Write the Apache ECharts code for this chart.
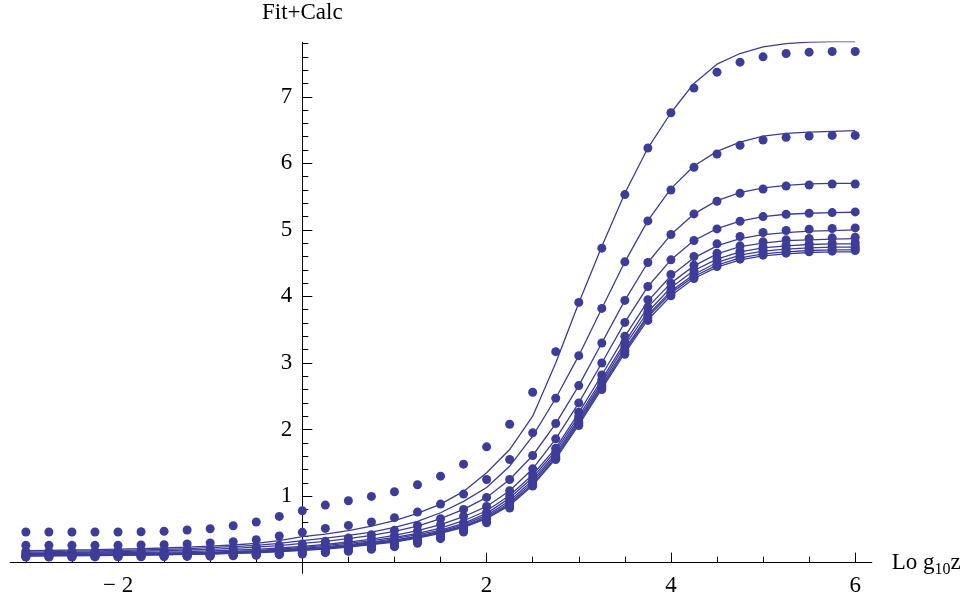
<!DOCTYPE html>
<html>
<head>
<meta charset="utf-8">
<script src="https://cdn.jsdelivr.net/npm/echarts@6/dist/echarts.min.js"></script>
<style>html,body{margin:0;padding:0;background:#fff;}#c{width:969px;height:599px;}</style>
</head>
<body>
<div id="c"></div>
<script>
// x positions (Log10 z)
const xs = [-3,-2.75,-2.5,-2.25,-2,-1.75,-1.5,-1.25,-1,-0.75,-0.5,-0.25,0,0.25,0.5,0.75,1,1.25,1.5,1.75,2,2.25,2.5,2.75,3,3.25,3.5,3.75,4,4.25,4.5,4.75,5,5.25,5.5,5.75,6];

// calculated points
const calcA = [0.46,0.46,0.46,0.46,0.46,0.465,0.47,0.49,0.51,0.555,0.61,0.695,0.78,0.865,0.93,0.995,1.065,1.17,1.30,1.48,1.74,2.08,2.56,3.17,3.91,4.725,5.53,6.23,6.76,7.13,7.37,7.52,7.60,7.65,7.67,7.68,7.68];
const calcB = [0.26,0.26,0.26,0.26,0.26,0.265,0.27,0.28,0.295,0.315,0.345,0.40,0.455,0.515,0.56,0.61,0.676,0.76,0.88,1.03,1.25,1.55,1.95,2.47,3.11,3.82,4.52,5.135,5.60,5.94,6.14,6.27,6.35,6.39,6.41,6.42,6.42];
const calcC = [0.17,0.17,0.17,0.17,0.175,0.18,0.185,0.19,0.20,0.215,0.235,0.26,0.28,0.32,0.37,0.42,0.485,0.56,0.66,0.80,0.98,1.25,1.61,2.09,2.66,3.30,3.94,4.51,4.93,5.24,5.43,5.55,5.615,5.66,5.675,5.69,5.69];
const calcD = [0.145,0.145,0.145,0.148,0.15,0.155,0.16,0.165,0.175,0.185,0.20,0.22,0.25,0.28,0.32,0.36,0.41,0.48,0.57,0.70,0.845,1.08,1.41,1.86,2.40,3.0,3.61,4.15,4.55,4.84,5.015,5.13,5.20,5.235,5.25,5.26,5.27];
const calcE = [0.12,0.12,0.12,0.123,0.125,0.128,0.132,0.137,0.143,0.152,0.165,0.19,0.22,0.24,0.27,0.30,0.35,0.41,0.49,0.60,0.76,1.00,1.32,1.72,2.26,2.82,3.40,3.95,4.33,4.60,4.79,4.90,4.96,4.99,5.01,5.02,5.03];
const calcF = [0.11,0.11,0.11,0.112,0.114,0.117,0.12,0.125,0.13,0.138,0.15,0.17,0.19,0.21,0.24,0.27,0.32,0.38,0.45,0.56,0.72,0.95,1.27,1.67,2.20,2.75,3.31,3.84,4.20,4.47,4.65,4.76,4.82,4.85,4.87,4.88,4.89];
const calcG = [0.10,0.10,0.10,0.102,0.104,0.106,0.109,0.113,0.118,0.125,0.135,0.15,0.17,0.19,0.22,0.25,0.29,0.35,0.42,0.53,0.68,0.91,1.23,1.63,2.16,2.70,3.25,3.77,4.13,4.39,4.57,4.68,4.74,4.77,4.79,4.80,4.81];
const calcH = [0.095,0.095,0.095,0.097,0.098,0.10,0.103,0.106,0.11,0.116,0.125,0.137,0.15,0.17,0.20,0.23,0.27,0.33,0.40,0.50,0.65,0.88,1.20,1.60,2.12,2.66,3.20,3.72,4.08,4.34,4.52,4.63,4.69,4.72,4.74,4.75,4.76];
const calcI = [0.09,0.09,0.09,0.091,0.092,0.094,0.097,0.10,0.104,0.11,0.118,0.128,0.14,0.16,0.18,0.21,0.25,0.31,0.38,0.48,0.62,0.85,1.17,1.57,2.09,2.63,3.17,3.68,4.04,4.30,4.48,4.59,4.65,4.68,4.70,4.71,4.72];
const calcJ = [0.085,0.085,0.085,0.086,0.087,0.089,0.091,0.094,0.098,0.104,0.111,0.12,0.13,0.15,0.17,0.20,0.24,0.29,0.36,0.46,0.60,0.82,1.15,1.55,2.06,2.60,3.13,3.64,4.01,4.27,4.45,4.56,4.62,4.65,4.67,4.68,4.69];

// fitted curves
const fitA = [0.18,0.185,0.19,0.196,0.203,0.211,0.22,0.232,0.247,0.265,0.29,0.33,0.39,0.43,0.48,0.55,0.63,0.74,0.88,1.07,1.35,1.70,2.2,3.0,3.9,4.75,5.55,6.23,6.76,7.2,7.49,7.65,7.75,7.80,7.82,7.83,7.83];
const fitB = [0.163,0.167,0.172,0.177,0.183,0.19,0.20,0.21,0.225,0.24,0.26,0.29,0.33,0.37,0.41,0.46,0.53,0.62,0.75,0.92,1.13,1.45,1.90,2.47,3.11,3.82,4.52,5.14,5.62,5.96,6.18,6.32,6.41,6.45,6.47,6.48,6.49];
const fitC = [0.146,0.15,0.155,0.16,0.166,0.172,0.18,0.19,0.20,0.215,0.232,0.255,0.29,0.32,0.36,0.41,0.47,0.55,0.66,0.80,0.98,1.25,1.61,2.09,2.66,3.30,3.94,4.51,4.93,5.24,5.44,5.56,5.63,5.67,5.69,5.70,5.70];
const fitD = [0.135,0.138,0.141,0.145,0.149,0.154,0.16,0.167,0.176,0.187,0.201,0.22,0.245,0.275,0.31,0.355,0.41,0.48,0.57,0.69,0.845,1.08,1.41,1.86,2.40,3.0,3.61,4.15,4.55,4.84,5.02,5.13,5.20,5.235,5.25,5.26,5.265];
const fitE = [0.125,0.127,0.129,0.132,0.135,0.139,0.144,0.15,0.158,0.168,0.182,0.202,0.23,0.26,0.29,0.33,0.38,0.44,0.52,0.63,0.78,1.01,1.32,1.72,2.25,2.82,3.40,3.93,4.31,4.58,4.76,4.87,4.93,4.96,4.98,4.99,5.0];
const fitF = [0.118,0.12,0.122,0.124,0.127,0.131,0.136,0.142,0.149,0.158,0.171,0.19,0.215,0.24,0.27,0.31,0.36,0.42,0.49,0.59,0.74,0.97,1.28,1.68,2.20,2.75,3.31,3.84,4.20,4.46,4.64,4.75,4.80,4.84,4.85,4.86,4.87];
const fitG = [0.112,0.114,0.116,0.118,0.121,0.125,0.13,0.136,0.143,0.152,0.164,0.182,0.205,0.23,0.26,0.30,0.34,0.40,0.47,0.57,0.71,0.93,1.24,1.64,2.16,2.71,3.26,3.77,4.13,4.39,4.56,4.67,4.73,4.76,4.78,4.79,4.79];
const fitH = [0.108,0.11,0.112,0.114,0.117,0.121,0.126,0.131,0.138,0.147,0.158,0.175,0.195,0.22,0.25,0.29,0.33,0.39,0.46,0.55,0.69,0.90,1.21,1.61,2.13,2.67,3.21,3.72,4.08,4.33,4.51,4.62,4.68,4.71,4.73,4.74,4.74];
const fitI = [0.104,0.106,0.108,0.11,0.113,0.117,0.122,0.127,0.134,0.142,0.153,0.169,0.19,0.21,0.24,0.28,0.32,0.38,0.45,0.54,0.67,0.88,1.18,1.58,2.10,2.64,3.18,3.69,4.05,4.30,4.47,4.58,4.64,4.67,4.69,4.70,4.70];
const fitJ = [0.10,0.102,0.104,0.106,0.109,0.113,0.118,0.123,0.13,0.138,0.149,0.165,0.185,0.205,0.235,0.27,0.31,0.37,0.44,0.53,0.66,0.86,1.16,1.56,2.07,2.61,3.15,3.65,4.01,4.27,4.44,4.55,4.61,4.64,4.66,4.67,4.67];

// ticks
const xMajorTicks = [-2, 0, 2, 4, 6];
const xLabelTicks = [-2, 2, 4, 6];
const xMinorTicks = [-3,-2.5,-1.5,-1,-0.5,0.5,1,1.5,2.5,3,3.5,4.5,5,5.5];
const yMajorTicks = [1, 2, 3, 4, 5, 6, 7];
const yMinorTicks = [0.2,0.4,0.6,0.8,1.2,1.4,1.6,1.8,2.2,2.4,2.6,2.8,3.2,3.4,3.6,3.8,4.2,4.4,4.6,4.8,5.2,5.4,5.6,5.8,6.2,6.4,6.6,6.8,7.2,7.4,7.6,7.8];

const COLOR = '#3d3d99';
const FONT = "'Liberation Serif','Times New Roman',serif";
const calcSets = [calcA, calcB, calcC, calcD, calcE, calcF, calcG, calcH, calcI, calcJ];
const fitSets = [fitA, fitB, fitC, fitD, fitE, fitF, fitG, fitH, fitI, fitJ];

const XMIN = -3.17, XMAX = 6.18, YMIN = -0.16, YMAX = 7.82;
const GRID = { left: 10.2, right: 97.2, top: 42.2, bottom: 25.7 };
const plotW = 969 - GRID.left - GRID.right;
const plotH = 599 - GRID.top - GRID.bottom;
// shift axes inward so they cross at the origin (derived from the axis scales)
const yAxisOffset = -((0 - XMIN) / (XMAX - XMIN)) * plotW;
const xAxisOffset = -((0 - YMIN) / (YMAX - YMIN)) * plotH;

const series = [];
fitSets.forEach((vals) => {
  series.push({
    type: 'line', xAxisIndex: 0, yAxisIndex: 0,
    data: xs.map((x, k) => [x, vals[k]]),
    showSymbol: false, smooth: false,
    lineStyle: { color: COLOR, width: 1.3 },
    itemStyle: { color: COLOR },
    z: 3, silent: true
  });
});
calcSets.forEach((vals) => {
  series.push({
    type: 'scatter', xAxisIndex: 0, yAxisIndex: 0,
    data: xs.map((x, k) => [x, vals[k]]),
    symbol: 'circle', symbolSize: 9,
    itemStyle: { color: COLOR, opacity: 1 },
    z: 4, silent: true
  });
});

const axisLineStyle = { color: '#000', width: 1 };
const chart = echarts.init(document.getElementById('c'), null, { renderer: 'canvas' });
chart.setOption({
  animation: false,
  backgroundColor: '#fff',
  grid: Object.assign({ containLabel: false, outerBoundsMode: 'none' }, GRID),
  xAxis: [
    {
      type: 'value', min: XMIN, max: XMAX, position: 'bottom', offset: xAxisOffset,
      axisLine: { show: true, onZero: false, lineStyle: axisLineStyle },
      axisTick: { show: true, inside: true, length: 10, customValues: xMajorTicks, lineStyle: axisLineStyle },
      axisLabel: {
        show: true, customValues: xLabelTicks, margin: 12,
        fontFamily: FONT, fontSize: 23, color: '#000',
        formatter: v => v < 0 ? '\u2212 ' + Math.abs(v) : String(v)
      },
      splitLine: { show: false },
      name: '{a|Lo g}{s|10}{a|z}', nameLocation: 'end', nameGap: 20,
      nameTextStyle: {
        rich: {
          a: { fontFamily: FONT, fontSize: 23, color: '#000' },
          s: { fontFamily: FONT, fontSize: 16, color: '#000', padding: [14, 0, 0, 0] }
        }
      }
    },
    {
      type: 'value', min: XMIN, max: XMAX, position: 'bottom', offset: xAxisOffset,
      axisLine: { show: false, onZero: false },
      axisTick: { show: true, inside: true, length: 6, customValues: xMinorTicks, lineStyle: axisLineStyle },
      axisLabel: { show: false },
      splitLine: { show: false }
    }
  ],
  yAxis: [
    {
      type: 'value', min: YMIN, max: YMAX, position: 'left', offset: yAxisOffset,
      axisLine: { show: true, onZero: false, lineStyle: axisLineStyle },
      axisTick: { show: true, inside: true, length: 10, customValues: yMajorTicks, lineStyle: axisLineStyle },
      axisLabel: { show: true, customValues: yMajorTicks, margin: 10, fontFamily: FONT, fontSize: 23, color: '#000' },
      splitLine: { show: false },
      name: 'Fit+Calc', nameLocation: 'end', nameGap: 18,
      nameTextStyle: { fontFamily: FONT, fontSize: 23, color: '#000', align: 'center' }
    },
    {
      type: 'value', min: YMIN, max: YMAX, position: 'left', offset: yAxisOffset,
      axisLine: { show: false, onZero: false },
      axisTick: { show: true, inside: true, length: 6, customValues: yMinorTicks, lineStyle: axisLineStyle },
      axisLabel: { show: false },
      splitLine: { show: false }
    }
  ],
  series: series
});
</script>
</body>
</html>
